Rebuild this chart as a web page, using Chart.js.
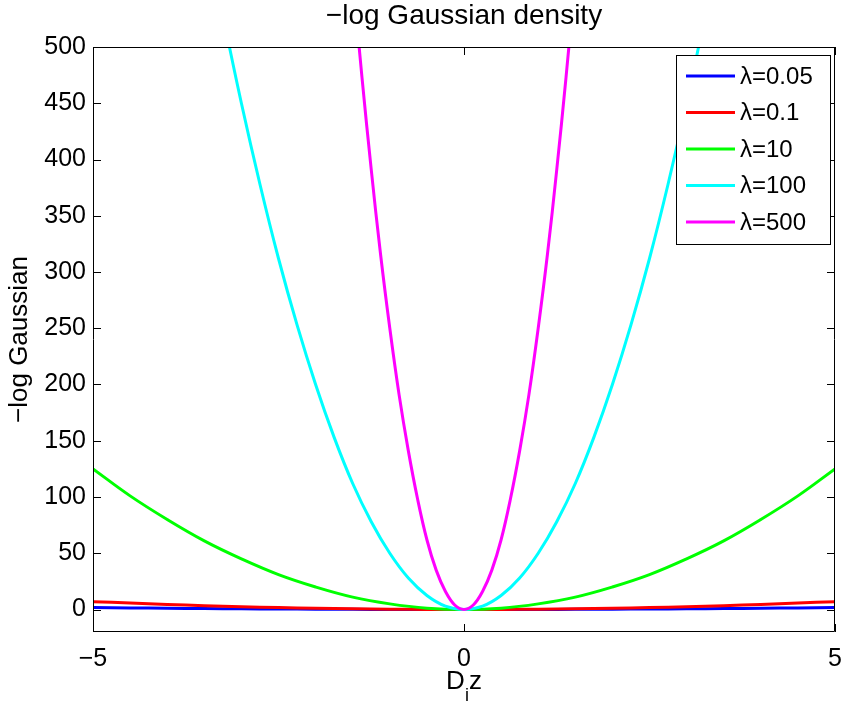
<!DOCTYPE html>
<html>
<head>
<meta charset="utf-8">
<title>-log Gaussian density</title>
<script src="https://cdn.jsdelivr.net/npm/chart.js@4.4.1/dist/chart.umd.min.js"></script>
<style>
  html, body { margin: 0; padding: 0; background: #fff; }
  #wrap { width: 845px; height: 709px; }
</style>
</head>
<body>
<div id="wrap"><canvas id="myChart" width="845" height="709"></canvas></div>
<script>
const FONT = '"Liberation Sans", Arial, Helvetica, sans-serif';

// sample positions for each curve
const xWide = [-5, -4.5, -4, -3.5, -3, -2.5, -2, -1.5, -1, -0.5, 0, 0.5, 1, 1.5, 2, 2.5, 3, 3.5, 4, 4.5, 5];
const xMid = [-3.25, -3, -2.75, -2.5, -2.25, -2, -1.75, -1.5, -1.25, -1, -0.75, -0.5, -0.25, 0,
              0.25, 0.5, 0.75, 1, 1.25, 1.5, 1.75, 2, 2.25, 2.5, 2.75, 3, 3.25];
const xNarrow = [-1.5, -1.375, -1.25, -1.125, -1, -0.875, -0.75, -0.625, -0.5, -0.375, -0.25, -0.125, 0,
                 0.125, 0.25, 0.375, 0.5, 0.625, 0.75, 0.875, 1, 1.125, 1.25, 1.375, 1.5];

const lambda005 = [1.75, 1.4, 1.1, 0.85, 0.6, 0.45, 0.3, 0.15, 0.07, 0.02, 0, 0.02, 0.07, 0.15, 0.3, 0.45, 0.6, 0.85, 1.1, 1.4, 1.75];
const lambda01 = [7, 5.7, 4.5, 3.4, 2.5, 1.75, 1.1, 0.6, 0.3, 0.07, 0, 0.07, 0.3, 0.6, 1.1, 1.75, 2.5, 3.4, 4.5, 5.7, 7];
const lambda10 = [125, 101, 80, 61, 45, 31, 20, 11, 5, 1.2, 0, 1.2, 5, 11, 20, 31, 45, 61, 80, 101, 125];
const lambda100 = [528, 450, 378, 312, 253, 200, 153, 112, 78, 50, 28, 12.5, 3, 0,
                   3, 12.5, 28, 50, 78, 112, 153, 200, 253, 312, 378, 450, 528];
const lambda500 = [562, 473, 391, 316, 250, 191, 141, 98, 62, 35, 16, 4, 0,
                   4, 16, 35, 62, 98, 141, 191, 250, 316, 391, 473, 562];

const seriesLabels = ['λ=0.05', 'λ=0.1', 'λ=10', 'λ=100', 'λ=500'];
const seriesColors = ['#0000ff', '#ff0000', '#00ff00', '#00ffff', '#ff00ff'];
const seriesX = [xWide, xWide, xWide, xMid, xNarrow];
const seriesY = [lambda005, lambda01, lambda10, lambda100, lambda500];

const xTicks = [-5, 0, 5];
const yTicks = [0, 50, 100, 150, 200, 250, 300, 350, 400, 450, 500];

const datasets = seriesY.map((vals, i) => ({
    label: seriesLabels[i],
    data: vals.map((v, j) => ({ x: seriesX[i][j], y: v })),
    borderColor: seriesColors[i],
    borderWidth: 3,
    pointRadius: 0,
    tension: 0.4,
    fill: false,
    clip: 0,
    order: seriesY.length - i   // later curves drawn on top
}));

function minusSign(v) {
    return String(v).replace('-', '\u2212');
}

// box, inward ticks, title, axis labels and legend in the matlab look
const frame = {
    id: 'frame',
    afterDraw(chart) {
        const ctx = chart.ctx;
        const a = chart.chartArea;
        const xs = chart.scales.x, ys = chart.scales.y;
        const tl = 8;
        ctx.save();
        ctx.strokeStyle = '#000';
        ctx.lineWidth = 1;
        ctx.beginPath();
        ctx.rect(a.left + 0.5, a.top + 0.5, a.right - a.left - 1, a.bottom - a.top - 1);
        xTicks.forEach(v => {
            const px = Math.round(xs.getPixelForValue(v)) + 0.5;
            ctx.moveTo(px, a.bottom); ctx.lineTo(px, a.bottom - tl);
            ctx.moveTo(px, a.top); ctx.lineTo(px, a.top + tl);
        });
        yTicks.forEach(v => {
            const py = Math.round(ys.getPixelForValue(v)) + 0.5;
            ctx.moveTo(a.left, py); ctx.lineTo(a.left + tl, py);
            ctx.moveTo(a.right, py); ctx.lineTo(a.right - tl, py);
        });
        ctx.stroke();

        ctx.fillStyle = '#000';
        ctx.font = '28px ' + FONT;
        ctx.textAlign = 'center';
        ctx.textBaseline = 'alphabetic';
        ctx.fillText('\u2212log Gaussian density', (a.left + a.right) / 2, 24);

        // x label: D with subscript i, then z
        const cx = (a.left + a.right) / 2;
        ctx.textAlign = 'left';
        ctx.font = '26px ' + FONT;
        const wD = ctx.measureText('D').width;
        ctx.font = '18px ' + FONT;
        const wi = ctx.measureText('i').width;
        ctx.font = '26px ' + FONT;
        const wz = ctx.measureText('z').width;
        const x0 = cx - (wD + wi + wz) / 2;
        ctx.fillText('D', x0, 689);
        ctx.font = '18px ' + FONT;
        ctx.fillText('i', x0 + wD, 701);
        ctx.font = '26px ' + FONT;
        ctx.fillText('z', x0 + wD + wi, 689);

        ctx.save();
        ctx.translate(27, (a.top + a.bottom) / 2);
        ctx.rotate(-Math.PI / 2);
        ctx.textAlign = 'center';
        ctx.fillText('\u2212log Gaussian', 0, 0);
        ctx.restore();

        // legend box
        const lx = 676, ly = 55, lw = 154, lh = 189;
        ctx.fillStyle = '#fff';
        ctx.fillRect(lx, ly, lw, lh);
        ctx.strokeStyle = '#000';
        ctx.lineWidth = 1;
        ctx.strokeRect(lx + 0.5, ly + 0.5, lw, lh);
        ctx.font = '24px ' + FONT;
        ctx.textBaseline = 'middle';
        chart.data.datasets.forEach((ds, i) => {
            const yy = 76 + i * 36.5;
            ctx.strokeStyle = ds.borderColor;
            ctx.lineWidth = 3;
            ctx.beginPath();
            ctx.moveTo(686, yy); ctx.lineTo(735, yy);
            ctx.stroke();
            ctx.fillStyle = '#000';
            ctx.fillText(ds.label, 740, yy + 1);
        });
        ctx.restore();
    }
};

new Chart(document.getElementById('myChart'), {
    type: 'line',
    data: { datasets: datasets },
    options: {
        responsive: false,
        animation: false,
        layout: { padding: { top: 47, right: 10, left: 0, bottom: 0 } },
        plugins: {
            legend: { display: false },
            tooltip: { enabled: false },
            title: { display: false }
        },
        scales: {
            x: {
                type: 'linear',
                min: -5,
                max: 5,
                afterBuildTicks: s => { s.ticks = xTicks.map(v => ({ value: v })); },
                afterFit: s => { s.height = 77; s.paddingLeft = 0; s.paddingRight = 0; },
                grid: { display: false, drawTicks: false },
                border: { display: false },
                ticks: {
                    color: '#000',
                    font: { family: FONT, size: 25 },
                    padding: 12,
                    maxRotation: 0,
                    callback: v => minusSign(v)
                }
            },
            y: {
                type: 'linear',
                min: -20,
                max: 500,
                afterBuildTicks: s => { s.ticks = yTicks.map(v => ({ value: v })); },
                afterFit: s => { s.width = 93; s.paddingTop = 0; s.paddingBottom = 0; },
                grid: { display: false, drawTicks: false },
                border: { display: false },
                ticks: {
                    color: '#000',
                    font: { family: FONT, size: 25 },
                    padding: 7,
                    callback: v => minusSign(v)
                }
            }
        }
    },
    plugins: [frame]
});
</script>
</body>
</html>
